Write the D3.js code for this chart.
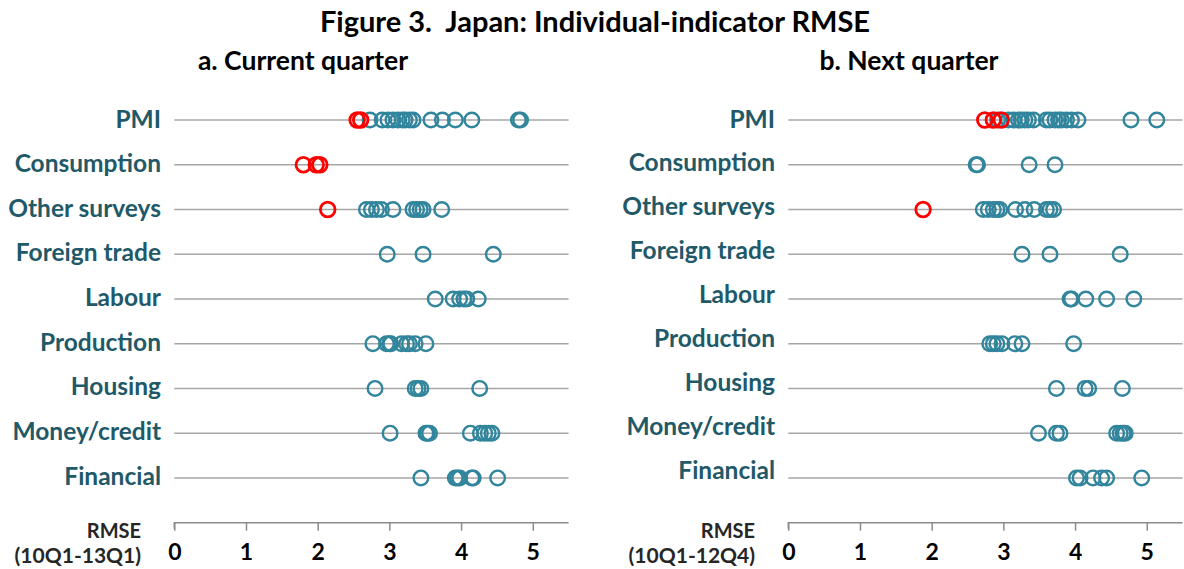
<!DOCTYPE html>
<html>
<head>
<meta charset="utf-8">
<script src="https://cdn.jsdelivr.net/npm/d3@7"></script>
<style>
  body { margin: 0; background: #fff; }
  svg { display: block; }
  text { font-family: Lato, "Open Sans", sans-serif; font-weight: bold; white-space: pre; }
</style>
</head>
<body>
<div id="chart"></div>
<script>
// indicator groups, top to bottom
var categories = ["PMI", "Consumption", "Other surveys", "Foreign trade", "Labour",
                  "Production", "Housing", "Money/credit", "Financial"];
var xTicks = [0, 1, 2, 3, 4, 5];

// a. Current quarter (RMSE, 10Q1-13Q1)
var currentBlue = [
  [2.73, 2.90, 2.98, 3.05, 3.12, 3.18, 3.22, 3.28, 3.33, 3.58, 3.74, 3.92, 4.15, 4.80, 4.83],
  [],
  [2.68, 2.75, 2.82, 2.89, 3.05, 3.33, 3.38, 3.43, 3.47, 3.73],
  [2.97, 3.47, 4.45],
  [3.64, 3.89, 3.98, 4.04, 4.08, 4.24],
  [2.77, 2.96, 3.00, 3.02, 3.17, 3.24, 3.28, 3.36, 3.51],
  [2.80, 3.36, 3.40, 3.44, 4.26],
  [3.01, 3.51, 3.53, 3.56, 4.13, 4.27, 4.33, 4.38, 4.43],
  [3.44, 3.92, 3.95, 3.98, 4.15, 4.17, 4.51]
];
var currentRed = [
  [2.55, 2.60], [1.80, 1.98, 2.03], [2.14], [], [], [], [], [], []
];

// b. Next quarter (RMSE, 10Q1-12Q4)
var nextBlue = [
  [2.92, 3.07, 3.14, 3.21, 3.25, 3.30, 3.35, 3.42, 3.60, 3.65, 3.72, 3.77, 3.81, 3.88, 3.95, 4.04, 4.78, 5.14],
  [2.62, 2.64, 3.36, 3.72],
  [2.72, 2.79, 2.86, 2.91, 2.95, 3.17, 3.30, 3.43, 3.60, 3.65, 3.70],
  [3.26, 3.65, 4.63],
  [3.93, 3.95, 4.15, 4.44, 4.82],
  [2.81, 2.86, 2.91, 2.98, 3.16, 3.26, 3.98],
  [3.74, 4.14, 4.19, 4.66],
  [3.49, 3.74, 3.79, 4.58, 4.63, 4.67, 4.70],
  [4.02, 4.07, 4.25, 4.37, 4.44, 4.93]
];
var nextRed = [
  [2.74, 2.86, 2.97], [], [1.88], [], [], [], [], [], []
];

var w = 1184;
var h = 569;

var svg = d3.select("#chart")
  .append("svg")
  .attr("width", w)
  .attr("height", h);

svg.append("text")
  .attr("x", 595)
  .attr("y", 20)
  .attr("dominant-baseline", "central")
  .attr("text-anchor", "middle")
  .style("font-size", "29px")
  .attr("fill", "#000")
  .text("Figure 3.  Japan: Individual-indicator RMSE");

function drawPanel(opt) {
  var x = d3.scaleLinear().domain([0, 5.5]).range([opt.x0, opt.x0 + 394.3]);
  // rows sit on index 0..8, the axis on slot 9
  var y = d3.scaleLinear().domain([0, 9]).range([120, 522.7]);
  var yLabel = d3.scaleLinear().domain([0, 8]).range(opt.labelRange);

  var g = svg.append("g");

  g.append("text")
    .attr("x", opt.titleX)
    .attr("y", 60)
    .attr("dominant-baseline", "central")
    .attr("text-anchor", "middle")
    .style("font-size", "26.5px")
    .attr("fill", "#000")
    .text(opt.title);

  // grid lines per indicator
  g.selectAll("line.row")
    .data(categories)
    .enter()
    .append("line")
    .attr("class", "row")
    .attr("x1", x(0))
    .attr("x2", x(5.5))
    .attr("y1", function(d, i) { return y(i); })
    .attr("y2", function(d, i) { return y(i); })
    .attr("stroke", "#a6a6a6")
    .attr("stroke-width", 1.5);

  g.selectAll("text.cat")
    .data(categories)
    .enter()
    .append("text")
    .attr("class", "cat")
    .attr("x", opt.labelX)
    .attr("y", function(d, i) { return yLabel(i); })
    .attr("dominant-baseline", "central")
    .attr("text-anchor", "end")
    .style("font-size", "24.5px")
    .attr("fill", "#215968")
    .text(function(d) { return d; });

  // x axis
  var axis = g.append("g")
    .attr("transform", "translate(0," + y(9) + ")")
    .call(d3.axisBottom(x).tickValues(xTicks).tickFormat(d3.format("d"))
      .tickSize(8).tickPadding(13).tickSizeOuter(0));
  axis.select(".domain").attr("stroke", "#8c8c8c").attr("stroke-width", 1.5)
    .attr("d", "M" + x(0) + ",6V0H" + x(5.5));
  axis.selectAll(".tick line").attr("stroke", "#8c8c8c").attr("stroke-width", 1.5);
  axis.selectAll(".tick text")
    .style("font-size", "23px")
    .style("font-family", "Lato, 'Open Sans', sans-serif")
    .style("font-weight", "bold")
    .attr("fill", "#000");

  g.append("text")
    .attr("x", opt.labelX - 20)
    .attr("y", 530)
    .attr("dominant-baseline", "central")
    .attr("text-anchor", "end")
    .style("font-size", "20px")
    .attr("fill", "#262626")
    .text("RMSE");
  g.append("text")
    .attr("x", opt.labelX - 20)
    .attr("y", 554)
    .attr("dominant-baseline", "central")
    .attr("text-anchor", "end")
    .style("font-size", "21px")
    .attr("fill", "#262626")
    .text(opt.period);

  // points: blue first, red on top
  var blue = [], red = [];
  opt.blue.forEach(function(arr, i) { arr.forEach(function(v) { blue.push({ v: v, i: i }); }); });
  opt.red.forEach(function(arr, i) { arr.forEach(function(v) { red.push({ v: v, i: i }); }); });

  g.selectAll("circle.blue")
    .data(blue)
    .enter()
    .append("circle")
    .attr("class", "blue")
    .attr("cx", function(d) { return x(d.v); })
    .attr("cy", function(d) { return y(d.i); })
    .attr("r", 7.3)
    .attr("fill", "none")
    .attr("stroke", "#31859c")
    .attr("stroke-width", 2.4);

  g.selectAll("circle.red")
    .data(red)
    .enter()
    .append("circle")
    .attr("class", "red")
    .attr("cx", function(d) { return x(d.v); })
    .attr("cy", function(d) { return y(d.i); })
    .attr("r", 7.3)
    .attr("fill", "none")
    .attr("stroke", "#ff0000")
    .attr("stroke-width", 2.8);
}

drawPanel({
  x0: 174.3, labelX: 161, labelRange: [118, 475],
  title: "a. Current quarter", titleX: 303, period: "(10Q1-13Q1)",
  blue: currentBlue, red: currentRed
});

drawPanel({
  x0: 788.3, labelX: 775, labelRange: [118, 469],
  title: "b. Next quarter", titleX: 909, period: "(10Q1-12Q4)",
  blue: nextBlue, red: nextRed
});
</script>
</body>
</html>
